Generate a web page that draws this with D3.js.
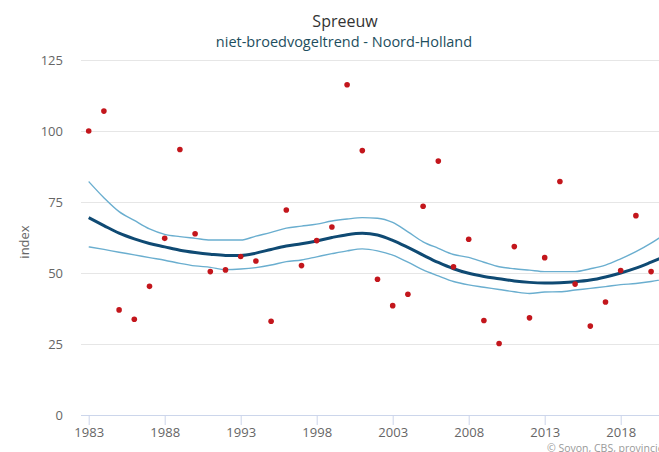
<!DOCTYPE html>
<html>
<head>
<meta charset="utf-8">
<script src="https://cdn.jsdelivr.net/npm/d3@7"></script>
<style>
  body { margin: 0; background: #fff; }
  svg { display: block; font-family: "Open Sans", "DejaVu Sans", sans-serif; }
</style>
</head>
<body>
<div id="chart"></div>
<script>
// jaarlijkse indexen (punten)
var pointYears = d3.range(1983, 2021);
var pointValues = [100, 107, 37, 33.7, 45.3, 62.2, 93.5, 63.8, 50.5, 51.1,
                   55.8, 54.2, 33, 72.2, 52.6, 61.4, 66.2, 116.3, 93.1, 47.8,
                   38.5, 42.5, 73.5, 89.4, 52.2, 61.9, 33.3, 25.2, 59.3, 34.2,
                   55.4, 82.2, 46.1, 31.3, 39.8, 50.9, 70.2, 50.5];

// trendlijn + betrouwbaarheidsband
var trendYears = d3.range(1983, 2022);
var trendValues = [69.5, 66.7, 64.0, 62.0, 60.4, 59.2, 58.0, 57.2, 56.6, 56.2,
                   56.2, 57.0, 58.3, 59.5, 60.3, 61.3, 62.5, 63.5, 64.0, 63.4,
                   61.5, 59.0, 56.3, 53.7, 51.5, 49.9, 48.8, 48.0, 47.2, 46.7,
                   46.5, 46.6, 46.9, 47.5, 48.6, 50.0, 51.7, 53.8, 56.0];
var upperValues = [82.2, 76.5, 71.6, 68.5, 65.5, 63.6, 62.8, 62.2, 61.6, 61.6,
                   61.6, 63.0, 64.3, 65.8, 66.5, 67.2, 68.3, 69.0, 69.5, 69.3,
                   67.8, 64.5, 61.0, 58.7, 56.5, 55.5, 53.8, 52.2, 51.5, 51.0,
                   50.5, 50.5, 50.5, 51.5, 52.8, 55.0, 57.5, 60.5, 64.0];
var lowerValues = [59.2, 58.3, 57.3, 56.4, 55.4, 54.5, 53.4, 52.5, 52.0, 51.2,
                   51.4, 51.9, 52.8, 54.0, 54.6, 55.7, 56.8, 57.8, 58.5, 57.8,
                   56.3, 53.8, 51.1, 49.0, 47.0, 45.8, 45.0, 44.2, 43.4, 42.8,
                   43.3, 43.4, 44.0, 44.6, 45.2, 45.9, 46.3, 47.0, 48.0];

var yTicks = [0, 25, 50, 75, 100, 125];
var xTicks = [1983, 1988, 1993, 1998, 2003, 2008, 2013, 2018];

var W = 659, H = 452;
var plotLeft = 81, plotTop = 60, plotBottom = 415;

var svg = d3.select("#chart").append("svg")
    .attr("width", W)
    .attr("height", H);

var x = d3.scaleLinear().domain([1983, 2021]).range([88.7, 88.7 + 38 * 15.2]);
var y = d3.scaleLinear().domain([0, 125]).range([plotBottom, plotTop]);

// titels
svg.append("text")
    .attr("x", 345).attr("y", 27)
    .attr("text-anchor", "middle")
    .attr("font-size", 16)
    .attr("fill", "#333")
    .text("Spreeuw");
svg.append("text")
    .attr("x", 344).attr("y", 47)
    .attr("text-anchor", "middle")
    .attr("font-size", 14.5)
    .attr("fill", "#1d4e5e")
    .text("niet-broedvogeltrend - Noord-Holland");

// gridlijnen
svg.append("g").selectAll("line")
    .data(yTicks.filter(function(d){ return d > 0; }))
    .enter().append("line")
    .attr("x1", plotLeft).attr("x2", W)
    .attr("y1", function(d){ return y(d) + 0.5; })
    .attr("y2", function(d){ return y(d) + 0.5; })
    .attr("stroke", "#e6e6e6")
    .attr("stroke-width", 1);

// y-as labels
var yAxis = svg.append("g")
    .attr("transform", "translate(" + plotLeft + ",0)")
    .call(d3.axisLeft(y).tickValues(yTicks).tickSize(0).tickPadding(18));
yAxis.select(".domain").remove();
yAxis.selectAll("text").attr("fill", "#666").attr("font-size", 13)
    .attr("font-family", "Open Sans, DejaVu Sans, sans-serif");

svg.append("text")
    .attr("transform", "translate(29,242) rotate(-90)")
    .attr("text-anchor", "middle")
    .attr("font-size", 13)
    .attr("fill", "#666")
    .text("index");

// x-as
var xAxis = svg.append("g")
    .attr("transform", "translate(0," + plotBottom + ")")
    .call(d3.axisBottom(x).tickValues(xTicks).tickFormat(d3.format("d")).tickSize(10).tickSizeOuter(0).tickPadding(3));
xAxis.select(".domain").attr("d", "M" + plotLeft + ",0.5H" + W).attr("stroke", "#ccd6eb");
xAxis.selectAll(".tick line").attr("stroke", "#ccd6eb");
xAxis.selectAll("text").attr("fill", "#666").attr("font-size", 13)
    .attr("font-family", "Open Sans, DejaVu Sans, sans-serif");

// lijnen
function lineOf(vals) {
    return d3.line()
        .x(function(d, i){ return x(trendYears[i]); })
        .y(function(d){ return y(d); })
        .curve(d3.curveMonotoneX)(vals);
}
svg.append("path").attr("d", lineOf(upperValues))
    .attr("fill", "none").attr("stroke", "#6aaecf").attr("stroke-width", 1.4);
svg.append("path").attr("d", lineOf(lowerValues))
    .attr("fill", "none").attr("stroke", "#6aaecf").attr("stroke-width", 1.4);
svg.append("path").attr("d", lineOf(trendValues))
    .attr("fill", "none").attr("stroke", "#0f4a73").attr("stroke-width", 3);

// punten
svg.append("g").selectAll("circle")
    .data(pointValues)
    .enter().append("circle")
    .attr("cx", function(d, i){ return x(pointYears[i]); })
    .attr("cy", function(d){ return y(d); })
    .attr("r", 2.8)
    .attr("fill", "#c3161c");

// credits
svg.append("text")
    .attr("x", 547).attr("y", 452)
    .attr("font-size", 10.5)
    .attr("fill", "#999")
    .text("© Sovon, CBS, provincies");
</script>
</body>
</html>
